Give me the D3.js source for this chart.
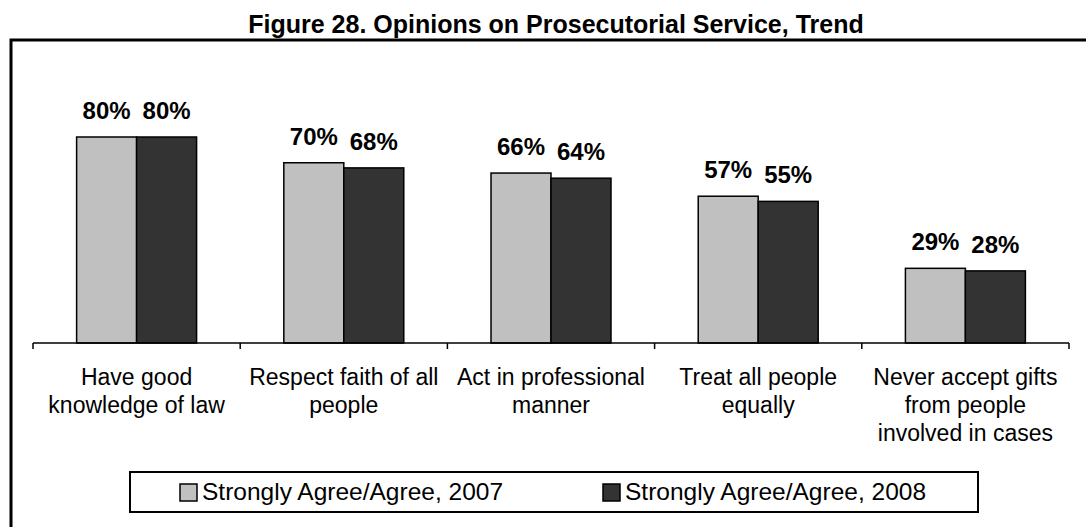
<!DOCTYPE html>
<html>
<head>
<meta charset="utf-8">
<script src="https://cdn.jsdelivr.net/npm/d3@7"></script>
<style>
  html, body { margin: 0; padding: 0; background: #fff; }
  svg { display: block; font-family: "Liberation Sans", Arial, sans-serif; }
</style>
</head>
<body>
<svg id="chart" width="1086" height="527"></svg>
<script>
// Survey items (each label split into display lines)
const categories = [
  "Have good knowledge of law",
  "Respect faith of all people",
  "Act in professional manner",
  "Treat all people equally",
  "Never accept gifts from people involved in cases"
];
const categoryLines = [
  ["Have good", "knowledge of law"],
  ["Respect faith of all", "people"],
  ["Act in professional", "manner"],
  ["Treat all people", "equally"],
  ["Never accept gifts", "from people", "involved in cases"]
];
const seriesNames = ["Strongly Agree/Agree, 2007", "Strongly Agree/Agree, 2008"];
const values2007 = [80, 70, 66, 57, 29];
const values2008 = [80, 68, 64, 55, 28];
const seriesColors = ["#c0c0c0", "#333333"];

const svg = d3.select("#chart");
const W = 1086, H = 527;

// Title
svg.append("text")
  .attr("x", 556).attr("y", 33)
  .attr("text-anchor", "middle")
  .attr("font-weight", "bold")
  .attr("font-size", 25)
  .text("Figure 28. Opinions on Prosecutorial Service, Trend");

// Chart frame (top and left edges visible)
svg.append("path")
  .attr("d", `M11,${H} L11,40 L${W},40`)
  .attr("fill", "none")
  .attr("stroke", "#000")
  .attr("stroke-width", 3);

// Scales
const x0 = d3.scaleBand().domain(categories).range([33, 1069]).padding(0);
const x1 = d3.scaleBand().domain(seriesNames).range([0, x0.bandwidth()])
  .paddingInner(0).paddingOuter(0.727);
const y = d3.scaleLinear().domain([0, 100]).range([343, 85.5]);

const rows = categories.map((c, i) => ({
  cat: c,
  lines: categoryLines[i],
  vals: [
    { s: seriesNames[0], v: values2007[i], color: seriesColors[0] },
    { s: seriesNames[1], v: values2008[i], color: seriesColors[1] }
  ]
}));

// Bars
const groups = svg.append("g").selectAll("g")
  .data(rows).join("g")
  .attr("transform", d => `translate(${x0(d.cat)},0)`);

groups.selectAll("rect")
  .data(d => d.vals).join("rect")
  .attr("x", d => x1(d.s))
  .attr("y", d => y(d.v))
  .attr("width", x1.bandwidth())
  .attr("height", d => y(0) - y(d.v))
  .attr("fill", d => d.color)
  .attr("stroke", "#000")
  .attr("stroke-width", 1.5);

// Value labels
groups.selectAll("text.val")
  .data(d => d.vals).join("text")
  .attr("class", "val")
  .attr("x", d => x1(d.s) + x1.bandwidth() / 2)
  .attr("y", d => y(d.v) - 18)
  .attr("text-anchor", "middle")
  .attr("font-weight", "bold")
  .attr("font-size", 24)
  .text(d => d.v + "%");

// Category axis: baseline with ticks at band edges
const axis = svg.append("g");
axis.append("line")
  .attr("x1", x0.range()[0]).attr("x2", x0.range()[1])
  .attr("y1", y(0)).attr("y2", y(0))
  .attr("stroke", "#000").attr("stroke-width", 1.5);
const edges = categories.map(c => x0(c)).concat([x0.range()[1]]);
axis.selectAll("line.tick")
  .data(edges).join("line")
  .attr("class", "tick")
  .attr("x1", d => d).attr("x2", d => d)
  .attr("y1", y(0)).attr("y2", y(0) + 6)
  .attr("stroke", "#000").attr("stroke-width", 1.5);

// Category labels
groups.append("text")
  .attr("text-anchor", "middle")
  .attr("font-size", 23)
  .selectAll("tspan")
  .data(d => d.lines).join("tspan")
  .attr("x", x0.bandwidth() / 2)
  .attr("y", (d, i) => 385 + i * 28)
  .text(d => d);

// Legend
const legend = svg.append("g");
legend.append("rect")
  .attr("x", 130).attr("y", 472)
  .attr("width", 848).attr("height", 40)
  .attr("fill", "#fff").attr("stroke", "#000").attr("stroke-width", 2);
const legendX = [180, 603];
const items = legend.selectAll("g.item")
  .data(seriesNames).join("g")
  .attr("class", "item")
  .attr("transform", (d, i) => `translate(${legendX[i]},484)`);
items.append("rect")
  .attr("width", 17).attr("height", 17)
  .attr("fill", (d, i) => seriesColors[i])
  .attr("stroke", "#000").attr("stroke-width", 1.5);
items.append("text")
  .attr("x", 22).attr("y", 16)
  .attr("font-size", 24.5)
  .text(d => d);
</script>
</body>
</html>
